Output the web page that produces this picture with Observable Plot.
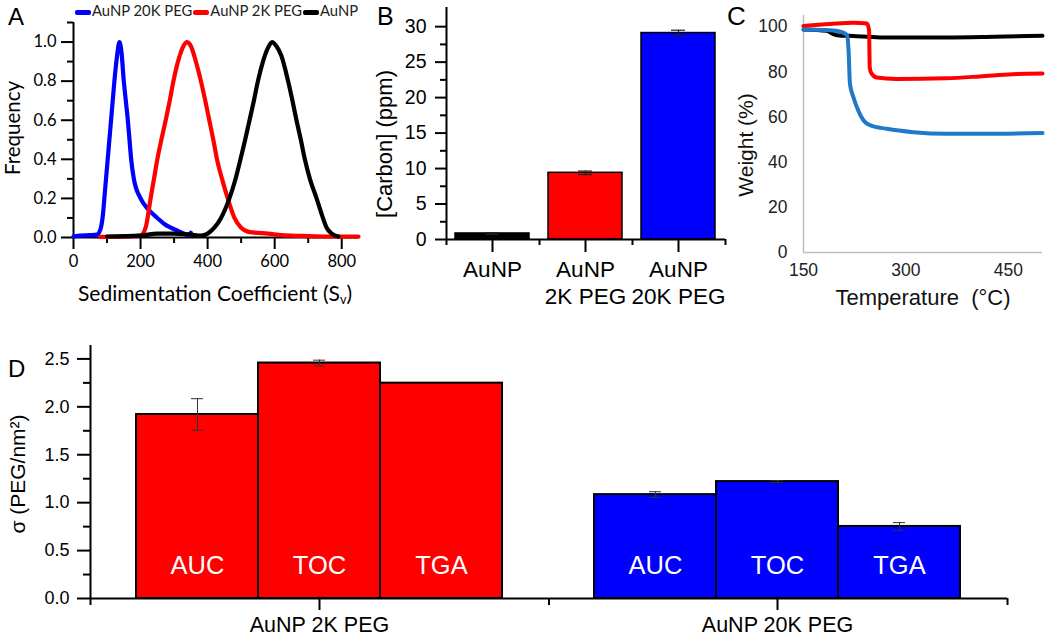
<!DOCTYPE html>
<html><head><meta charset="utf-8">
<script src="https://cdn.jsdelivr.net/npm/d3@7"></script>
<script src="https://cdn.jsdelivr.net/npm/@observablehq/plot@0.6"></script>
<style>
html,body{margin:0;padding:0;background:#fff;}
#fig{position:relative;width:1050px;height:639px;overflow:hidden;background:#fff;}
</style>
</head><body><div id="fig"></div>
<script>
// ---------------- DATA ----------------
// Panel A: sedimentation coefficient distributions
const seriesA = ["AuNP 20K PEG", "AuNP 2K PEG", "AuNP"];
const a20kS = [0,20,50,70,80,88,92,97,102,107,112,117,122,130,137,143,150,156,162,167,172,180,200,225,250,270,290,310,330,340,345,350];
const a20kF = [0.005,0.01,0.012,0.015,0.04,0.12,0.2,0.3,0.4,0.5,0.6,0.7,0.8,0.93,1.0,0.95,0.8,0.7,0.6,0.5,0.4,0.3,0.2,0.14,0.1,0.07,0.05,0.035,0.02,0.012,0.015,0.025];
const a2kS = [80,150,200,215,230,240,250,262,275,287,298,315,328,338,350,365,380,393,405,417,428,443,460,480,500,520,540,580,620,680,750,850];
const a2kF = [0.003,0.005,0.01,0.05,0.2,0.3,0.4,0.5,0.6,0.7,0.8,0.92,0.98,1.0,0.98,0.9,0.8,0.7,0.6,0.5,0.4,0.3,0.2,0.1,0.05,0.03,0.025,0.02,0.012,0.008,0.005,0.004];
const aNpS = [100,200,250,300,350,380,400,420,440,465,480,498,512,525,538,550,565,580,592,605,620,640,653,665,678,690,705,725,740,755,770,790];
const aNpF = [0.005,0.01,0.02,0.02,0.015,0.01,0.02,0.05,0.1,0.2,0.28,0.4,0.5,0.6,0.7,0.8,0.9,0.97,1.0,0.98,0.93,0.8,0.7,0.6,0.5,0.4,0.3,0.2,0.12,0.05,0.02,0.005];
const aTicksX = [0,200,400,600,800];
const aMinorX = [100,300,500,700];
const aTicksY = [0,0.2,0.4,0.6,0.8,1.0];
const aMinorY = [0.1,0.3,0.5,0.7,0.9,1.1];

// Panel B: carbon concentration
const bCats = ["AuNP", "AuNP\n2K PEG", "AuNP\n20K PEG"];
const bVals = [0.85, 9.4, 29.1];
const bErr  = [0.1, 0.25, 0.4];
const bTicksY = [0,5,10,15,20,25,30];
const bMinorY = [2.5,7.5,12.5,17.5,22.5,27.5];
const bBounds = [0,1,2,3];

// Panel C: TGA weight curves
const seriesC = ["AuNP", "AuNP 2K PEG", "AuNP 20K PEG"];
const cNpT  = [150,184,192,199,223,262,359,430,500];
const cNpW  = [98.8,98.2,97,96.3,95.9,95.3,95.3,95.6,96];
const c2kT  = [150,189,223,243,246,247,249,257,286,359,408,456,500];
const c2kW  = [100.3,101.2,101.8,101.5,98.5,82,79.6,77.5,76.9,77.2,78,79,79.3];
const c20kT = [150,189,204,214,216,218,223,230,238,248,272,311,359,408,500];
const c20kW = [98.8,98.5,97.8,96.3,89.6,74.8,68.9,63,58.5,56.3,54.8,53.3,52.6,52.6,52.9];
const cTicksX = [150,300,450];
const cTicksY = [0,20,40,60,80,100];

// Panel D: grafting density
const dGroups  = ["AuNP 2K PEG", "AuNP 20K PEG"];
const dMethods = ["AUC", "TOC", "TGA"];
const d2kVals  = [1.92, 2.457, 2.247];
const d2kErr   = [0.165, 0.03, 0];
const d20kVals = [1.084, 1.22, 0.752];
const d20kErr  = [0.03, 0.01, 0.04];
const dTicksY = [0,0.5,1,1.5,2,2.5];
const dMinorY = [0.25,0.75,1.25,1.75,2.25];
const dBounds = [0,1,2];

// ---------------- STYLE ----------------
const colA = ["#0000ff", "#ff0000", "#000000"];
const colB = ["#000000", "#ff0000", "#0000ff"];
const colC = ["#000000", "#ff0000", "#1f78c8"];
const colD = ["#ff0000", "#0000ff"];
const ARIAL = "'Liberation Sans', Arial, sans-serif";
const CALI = "Lato, 'Open Sans', sans-serif";

const fig = document.getElementById("fig");
function sty(family, size) {
  return {background: "transparent", overflow: "visible", maxWidth: "none", fontFamily: family, fontSize: size + "px", color: "#000"};
}
function mount(node, left, top, w, h) {
  const d = document.createElement("div");
  d.style.cssText = `position:absolute;left:${left}px;top:${top}px;width:${w}px;height:${h}px;`;
  d.appendChild(node);
  fig.appendChild(d);
}
function addText(html, cx, cy, family, size, rot, color) {
  const el = document.createElement("div");
  el.innerHTML = html;
  el.style.cssText = `position:absolute;left:${cx}px;top:${cy}px;font-family:${family};font-size:${size}px;line-height:1;white-space:nowrap;color:${color || "#000"};transform:translate(-50%,-50%)${rot ? " rotate(-90deg)" : ""};`;
  fig.appendChild(el);
}
function addLetter(t, x, capTop, size) {
  const el = document.createElement("div");
  el.textContent = t;
  el.style.cssText = `position:absolute;left:${x}px;top:${capTop - 0.13 * size}px;font-family:${ARIAL};font-size:${size}px;line-height:1;color:#000;`;
  fig.appendChild(el);
}
const blank = () => "";

// ---------------- PANEL A ----------------
const aData = [
  ...a20kS.map((s, i) => ({series: seriesA[0], s, f: a20kF[i]})),
  ...a2kS.map((s, i) => ({series: seriesA[1], s, f: a2kF[i]})),
  ...aNpS.map((s, i) => ({series: seriesA[2], s, f: aNpF[i]}))
];
const plotA = Plot.plot({
  width: 370, height: 310, marginLeft: 73, marginRight: 12, marginTop: 22, marginBottom: 73,
  style: sty(CALI, 16),
  x: {domain: [0, 850]}, y: {domain: [0, 1.1]},
  color: {domain: seriesA, range: colA},
  marks: [
    Plot.ruleX([0], {stroke: "#000", strokeWidth: 2}),
    Plot.ruleY([0], {stroke: "#000", strokeWidth: 2}),
    Plot.axisX({ticks: aTicksX, tickSize: 12, tickPadding: 6, strokeWidth: 2, fontSize: 16.5, label: null}),
    Plot.axisX({ticks: aMinorX, tickSize: 6, strokeWidth: 2, tickFormat: blank, label: null}),
    Plot.axisY({ticks: aTicksY, tickSize: 12, tickPadding: 5, strokeWidth: 2, tickFormat: ".1f", fontSize: 16.5, label: null}),
    Plot.axisY({ticks: aMinorY, tickSize: 6, strokeWidth: 2, tickFormat: blank, label: null}),
    Plot.line(aData, {x: "s", y: "f", z: "series", stroke: "series", strokeWidth: 4.2, curve: "monotone-x"})
  ]
});
mount(plotA, 0, 0, 370, 310);

// legend A
(function () {
  const lg = document.createElement("div");
  lg.style.cssText = `position:absolute;left:75px;top:2px;height:16px;display:flex;align-items:center;font-family:${CALI};font-size:14.8px;color:#222;white-space:nowrap;`;
  seriesA.forEach((s, i) => {
    const seg = document.createElement("span");
    seg.style.cssText = `display:inline-block;width:16px;height:5px;border-radius:2px;background:${colA[i]};margin:4px 1px 0 0;`;
    const tx = document.createElement("span");
    tx.textContent = s;
    tx.style.cssText = "margin-right:1px;";
    lg.appendChild(seg); lg.appendChild(tx);
  });
  fig.appendChild(lg);
})();
addText("Sedimentation Coefficient (S<sub style='font-size:0.6em;vertical-align:-0.25em'>v</sub>)", 215, 294, CALI, 21);
addText("Frequency", 12, 128, CALI, 20.5, true);
addLetter("A", 8, 8, 24);

// ---------------- PANEL B ----------------
const bData = bCats.map((c, i) => ({cat: c, v: bVals[i], e: bErr[i]}));
const bDims = {width: 360, height: 310, marginLeft: 76, marginRight: 5, marginTop: 7, marginBottom: 71};
const plotB = Plot.plot({
  ...bDims,
  style: sty(ARIAL, 20),
  x: {domain: bCats, paddingInner: 0.2, paddingOuter: 0.1, align: 0.5},
  y: {domain: [0, 32.7], axis: null},
  color: {domain: bCats, range: colB},
  marks: [
    Plot.barY(bData, {x: "cat", y: "v", fill: "cat", stroke: "#000", strokeWidth: 1.5}),
    Plot.ruleX(bData, {x: "cat", y1: d => d.v - d.e, y2: d => d.v + d.e, stroke: "#222", strokeWidth: 1.2}),
    Plot.tickY(bData, {x: "cat", y: d => d.v + d.e, insetLeft: 30, insetRight: 30, stroke: "#222", strokeWidth: 1.2}),
    Plot.tickY(bData, {x: "cat", y: d => d.v - d.e, insetLeft: 30, insetRight: 30, stroke: "#222", strokeWidth: 1.2}),
    Plot.axisX({tickSize: 13, tickPadding: 5, strokeWidth: 2, fontSize: 22.5, lineHeight: 1.2, label: null})
  ]
});
mount(plotB, 370, 0, 360, 310);
const plotBaxes = Plot.plot({
  ...bDims,
  style: sty(ARIAL, 19.5),
  x: {domain: [0, 3]}, y: {domain: [0, 32.7]},
  marks: [
    Plot.ruleX([0], {stroke: "#000", strokeWidth: 2}),
    Plot.ruleY([0], {stroke: "#000", strokeWidth: 2}),
    Plot.axisY({ticks: bTicksY, tickSize: 11, tickPadding: 9, strokeWidth: 2, fontSize: 19.5, label: null}),
    Plot.axisY({ticks: bMinorY, tickSize: 6, strokeWidth: 2, tickFormat: blank, label: null}),
    Plot.axisX({ticks: bBounds, tickSize: 6, strokeWidth: 2, tickFormat: blank, label: null})
  ]
});
mount(plotBaxes, 370, 0, 360, 310);
addText("[Carbon] (ppm)", 385, 144, ARIAL, 22, true);
addLetter("B", 377, 7, 25);

// ---------------- PANEL C ----------------
const cData = [
  ...cNpT.map((t, i) => ({series: seriesC[0], t, w: cNpW[i]})),
  ...c2kT.map((t, i) => ({series: seriesC[1], t, w: c2kW[i]})),
  ...c20kT.map((t, i) => ({series: seriesC[2], t, w: c20kW[i]}))
];
const plotC = Plot.plot({
  width: 370, height: 310, marginLeft: 123, marginRight: 8, marginTop: 15, marginBottom: 58,
  style: sty(ARIAL, 17.5),
  x: {domain: [150, 500]}, y: {domain: [0, 105]},
  color: {domain: seriesC, range: colC},
  marks: [
    Plot.ruleX([150], {stroke: "#bdbdbd", strokeWidth: 1.5}),
    Plot.ruleY([0], {stroke: "#bdbdbd", strokeWidth: 1.5}),
    Plot.axisX({ticks: cTicksX, tickSize: 0, tickPadding: 11, fontSize: 17.5, fill: "#222", label: null}),
    Plot.axisY({ticks: cTicksY, tickSize: 0, tickPadding: 16, fontSize: 17.5, fill: "#222", label: null}),
    Plot.line(cData, {x: "t", y: "w", z: "series", stroke: "series", strokeWidth: 4, curve: "monotone-x"})
  ]
});
mount(plotC, 680, 0, 370, 310);
addText("Temperature &nbsp;(°C)", 923, 298, ARIAL, 22, false, "#111");
addText("Weight (%)", 745, 145, ARIAL, 21, true, "#111");
addLetter("C", 727, 6, 26);

// ---------------- PANEL D ----------------
const dData = dGroups.flatMap((g, gi) => dMethods.map((m, mi) => ({
  group: g, method: m,
  v: gi === 0 ? d2kVals[mi] : d20kVals[mi],
  e: gi === 0 ? d2kErr[mi] : d20kErr[mi]
})));
const dErrData = dData.filter(d => d.e > 0);
const dDims = {width: 1050, height: 309, marginLeft: 90, marginRight: 43, marginTop: 15, marginBottom: 41};
const plotD = Plot.plot({
  ...dDims,
  style: sty(ARIAL, 20),
  fx: {domain: dGroups, paddingInner: 0.2, paddingOuter: 0.1, label: null},
  x: {domain: dMethods, padding: 0, axis: null},
  y: {domain: [0, 2.64], axis: null},
  color: {domain: dGroups, range: colD},
  marks: [
    Plot.barY(dData, {fx: "group", x: "method", y: "v", fill: "group", stroke: "#000", strokeWidth: 2}),
    Plot.text(dData, {fx: "group", x: "method", frameAnchor: "bottom", text: "method", dy: -25, fill: "#fff", fontSize: 25.5}),
    Plot.ruleX(dErrData, {fx: "group", x: "method", y1: d => d.v - d.e, y2: d => d.v + d.e, stroke: "#333", strokeWidth: 1}),
    Plot.tickY(dErrData, {fx: "group", x: "method", y: d => d.v + d.e, insetLeft: 55, insetRight: 55, stroke: "#333", strokeWidth: 1}),
    Plot.tickY(dErrData, {fx: "group", x: "method", y: d => d.v - d.e, insetLeft: 55, insetRight: 55, stroke: "#333", strokeWidth: 1}),
    Plot.axisFx({anchor: "bottom", tickSize: 12, tickPadding: 6, strokeWidth: 2, fontSize: 21.5, label: null})
  ]
});
mount(plotD, 0, 330, 1050, 309);
const plotDaxes = Plot.plot({
  ...dDims,
  style: sty(ARIAL, 18),
  x: {domain: [0, 2]}, y: {domain: [0, 2.64]},
  marks: [
    Plot.ruleX([0], {stroke: "#000", strokeWidth: 2}),
    Plot.ruleY([0], {stroke: "#000", strokeWidth: 2}),
    Plot.axisY({ticks: dTicksY, tickSize: 13, tickPadding: 8, strokeWidth: 2, tickFormat: ".1f", fontSize: 18, label: null}),
    Plot.axisY({ticks: dMinorY, tickSize: 7, strokeWidth: 2, tickFormat: blank, label: null}),
    Plot.axisX({ticks: dBounds, tickSize: 7, strokeWidth: 2, tickFormat: blank, label: null})
  ]
});
mount(plotDaxes, 0, 330, 1050, 309);
addText("σ (PEG/nm²)", 17, 474, ARIAL, 21, true);
addLetter("D", 8, 360, 24);
</script>
</body></html>
